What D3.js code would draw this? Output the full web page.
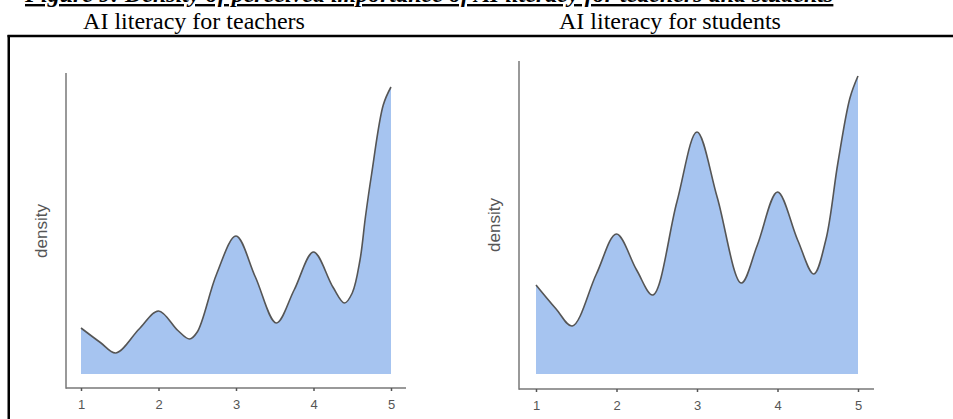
<!DOCTYPE html>
<html>
<head>
<meta charset="utf-8">
<script src="https://cdn.jsdelivr.net/npm/d3@7"></script>
<style>
  body { margin: 0; background: #fff; }
  svg { display: block; }
</style>
</head>
<body>
<div id="container"></div>
<script>
/* DATA */
const captionText = "Figure 9: Density of perceived importance of AI literacy for teachers and students";
const panelTitles = ["AI literacy for teachers", "AI literacy for students"];
const xTicks = [1, 2, 3, 4, 5];

// density curve (arbitrary units)
const teachersX = [1, 1.25, 1.45, 1.75, 2, 2.25, 2.4, 2.5, 2.75, 3, 3.25, 3.52, 3.75, 4, 4.25, 4.4, 4.5, 4.6, 4.67, 4.75, 4.9, 5];
const teachersY = [0.092, 0.063, 0.042, 0.090, 0.126, 0.087, 0.070, 0.084, 0.200, 0.276, 0.194, 0.102, 0.168, 0.244, 0.174, 0.142, 0.162, 0.228, 0.314, 0.400, 0.538, 0.574];

const studentsX = [1, 1.25, 1.45, 1.75, 2, 2.25, 2.45, 2.75, 3, 3.25, 3.55, 3.75, 4, 4.25, 4.45, 4.6, 4.75, 4.9, 5];
const studentsY = [0.178, 0.130, 0.096, 0.200, 0.280, 0.208, 0.158, 0.344, 0.484, 0.354, 0.182, 0.258, 0.364, 0.268, 0.200, 0.268, 0.422, 0.552, 0.596];

/* CONSTANTS */
const width = 953, height = 419;

const panels = [
  { title: panelTitles[0], xs: teachersX, ys: teachersY, titleX: 194,
    x0: 81, x1: 391, axisX: 66, axisTop: 73, axisY: 388, axisEnd: 406, yMax: 0.602, labelX: 46.5, labelY: 231 },
  { title: panelTitles[1], xs: studentsX, ys: studentsY, titleX: 670,
    x0: 536, x1: 858, axisX: 519, axisTop: 61, axisY: 389, axisEnd: 874, yMax: 0.626, labelX: 499.5, labelY: 225 }
];
const baseY = 374;

const svg = d3.select("#container")
  .append("svg")
  .attr("width", width)
  .attr("height", height);

// caption, cut off by the top of the picture as in the source
svg.append("text")
  .attr("x", 25)
  .attr("y", 2)
  .attr("font-family", "Liberation Serif, Times New Roman, serif")
  .attr("font-size", 24)
  .attr("font-weight", "bold")
  .attr("font-style", "italic")
  .attr("text-decoration", "underline")
  .attr("fill", "#000")
  .text(captionText);

// frame
svg.append("line")
  .attr("x1", 7.5).attr("x2", width)
  .attr("y1", 36).attr("y2", 36)
  .attr("stroke", "#000").attr("stroke-width", 2.5);
svg.append("line")
  .attr("x1", 8.75).attr("x2", 8.75)
  .attr("y1", 35).attr("y2", height)
  .attr("stroke", "#000").attr("stroke-width", 2.5);

panels.forEach(p => {
  const g = svg.append("g");

  // panel title
  g.append("text")
    .attr("x", p.titleX)
    .attr("y", 29)
    .attr("text-anchor", "middle")
    .attr("font-family", "Liberation Serif, Times New Roman, serif")
    .attr("font-size", 24)
    .attr("fill", "#000")
    .text(p.title);

  const x = d3.scaleLinear().domain([1, 5]).range([p.x0, p.x1]);
  const y = d3.scaleLinear().domain([0, p.yMax]).range([baseY, p.axisTop]);

  const pts = p.xs.map((v, i) => [v, p.ys[i]]);

  const area = d3.area()
    .x(d => x(d[0]))
    .y0(y(0))
    .y1(d => y(d[1]))
    .curve(d3.curveCatmullRom.alpha(0.5));
  const line = d3.line()
    .x(d => x(d[0]))
    .y(d => y(d[1]))
    .curve(d3.curveCatmullRom.alpha(0.5));

  g.append("path")
    .datum(pts)
    .attr("d", area)
    .attr("fill", "#a6c4f0");
  g.append("path")
    .datum(pts)
    .attr("d", line)
    .attr("fill", "none")
    .attr("stroke", "#555")
    .attr("stroke-width", 1.6);

  // axis lines (extend past the data range)
  g.append("line")
    .attr("x1", p.axisX).attr("x2", p.axisX)
    .attr("y1", p.axisTop).attr("y2", p.axisY + 0.75)
    .attr("stroke", "#777").attr("stroke-width", 1.5);
  g.append("line")
    .attr("x1", p.axisX).attr("x2", p.axisEnd)
    .attr("y1", p.axisY).attr("y2", p.axisY)
    .attr("stroke", "#777").attr("stroke-width", 1.5);

  const xAxis = d3.axisBottom(x)
    .tickValues(xTicks)
    .tickFormat(d3.format("d"))
    .tickSize(3)
    .tickPadding(9);
  const ax = g.append("g")
    .attr("transform", `translate(0,${p.axisY})`)
    .call(xAxis);
  ax.select(".domain").remove();
  ax.selectAll(".tick line").attr("stroke", "#555").attr("stroke-width", 1.5);
  ax.selectAll(".tick text")
    .attr("fill", "#555")
    .attr("font-family", "Liberation Sans, Arial, sans-serif")
    .attr("font-size", 13);

  // y label
  g.append("text")
    .attr("transform", `translate(${p.labelX},${p.labelY}) rotate(-90)`)
    .attr("text-anchor", "middle")
    .attr("font-family", "Liberation Sans, Arial, sans-serif")
    .attr("font-size", 17)
    .attr("fill", "#555")
    .text("density");
});
</script>
</body>
</html>
